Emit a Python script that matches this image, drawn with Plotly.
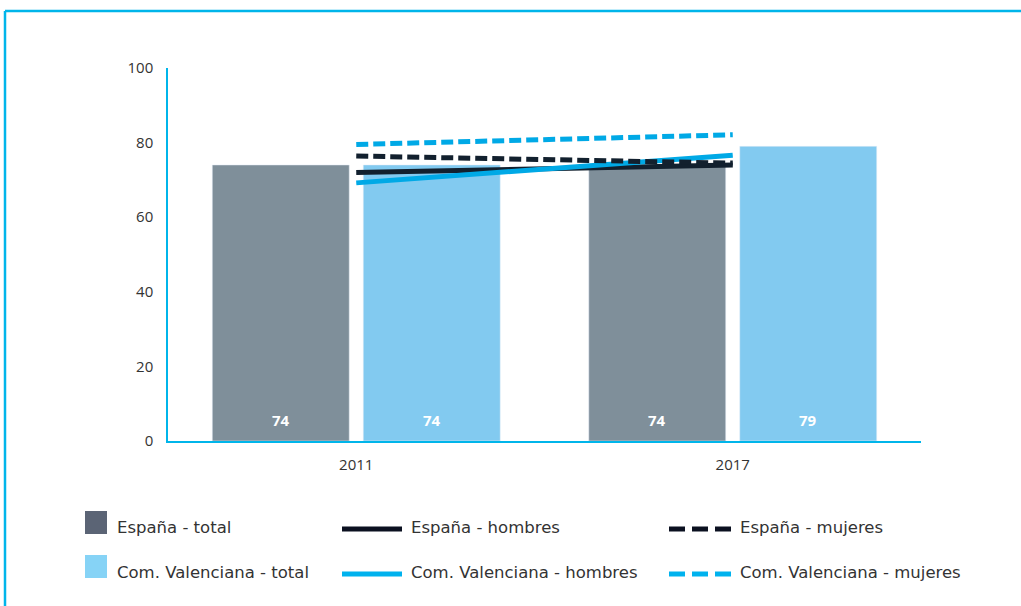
import plotly.graph_objects as go

years = ["2011", "2017"]
espana_total = [74, 74]
cv_total = [74, 79]
espana_hombres = [72.0, 74.0]
espana_mujeres = [76.4, 74.5]
cv_hombres = [69.2, 76.6]
cv_mujeres = [79.5, 82.1]
y_ticks = [0, 20, 40, 60, 80, 100]

legend_labels = ["España - total", "España - hombres", "España - mujeres",
                 "Com. Valenciana - total", "Com. Valenciana - hombres", "Com. Valenciana - mujeres"]

C_ES_BAR = "#7F8F9A"
C_CV_BAR = "#82CAF0"
C_DARK = "#12202E"
C_BLUE = "#00A9E6"
C_FRAME = "#00B5EA"
FONT = "Open Sans, Noto Sans, sans-serif"
LEG_FONT = "DejaVu Sans, sans-serif"

fig = go.Figure()
fig.add_trace(go.Bar(x=years, y=espana_total, name=legend_labels[0], marker_color=C_ES_BAR,
                     showlegend=False))
fig.add_trace(go.Bar(x=years, y=cv_total, name=legend_labels[3], marker_color=C_CV_BAR,
                     showlegend=False))
fig.add_trace(go.Scatter(x=years, y=espana_hombres, mode="lines", name=legend_labels[1],
                         line=dict(color=C_DARK, width=5), showlegend=False))
fig.add_trace(go.Scatter(x=years, y=cv_hombres, mode="lines", name=legend_labels[4],
                         line=dict(color=C_BLUE, width=5), showlegend=False))
fig.add_trace(go.Scatter(x=years, y=espana_mujeres, mode="lines", name=legend_labels[2],
                         line=dict(color=C_DARK, width=5, dash="12px,5px"), showlegend=False))
fig.add_trace(go.Scatter(x=years, y=cv_mujeres, mode="lines", name=legend_labels[5],
                         line=dict(color=C_BLUE, width=5, dash="12px,5px"), showlegend=False))

annotations = []
for i, yr in enumerate(years):
    for vals, shift in ((espana_total, -75.5), (cv_total, 75.5)):
        annotations.append(dict(x=i, y=0, xref="x", yref="y", xshift=shift, yshift=21,
                                text=f"<b>{vals[i]}</b>", showarrow=False,
                                font=dict(family=FONT, size=15, color="white")))

# Custom legend (paper coords: x_px = 168 + xp*753, y_px = 441 - yp*373)
def px(x):
    return (x - 168) / 753
def py(y):
    return (441 - y) / 373

shapes = []
# frame
shapes.append(dict(type="line", xref="paper", yref="paper", x0=px(5), x1=px(1030), y0=py(11), y1=py(11),
                   line=dict(color=C_FRAME, width=2.5)))
shapes.append(dict(type="line", xref="paper", yref="paper", x0=px(5), x1=px(5), y0=py(11), y1=py(620),
                   line=dict(color=C_FRAME, width=2.5)))

rows = [527, 572]
leg_dark = "#0B1020"
leg_blue = "#00B2EE"
# swatches
shapes.append(dict(type="rect", xref="paper", yref="paper", x0=px(85), x1=px(107), y0=py(511), y1=py(534),
                   fillcolor="#5B6475", line=dict(width=0)))
shapes.append(dict(type="rect", xref="paper", yref="paper", x0=px(85), x1=px(107), y0=py(555), y1=py(578),
                   fillcolor="#86D3F6", line=dict(width=0)))
for r, col in zip(rows, [leg_dark, leg_blue]):
    shapes.append(dict(type="line", xref="paper", yref="paper", x0=px(342), x1=px(402), y0=py(r + 2), y1=py(r + 2),
                       line=dict(color=col, width=5)))
    for a in (669, 692, 715):
        shapes.append(dict(type="line", xref="paper", yref="paper", x0=px(a), x1=px(a + 16),
                           y0=py(r + 2), y1=py(r + 2), line=dict(color=col, width=5)))

text_x = [115, 409, 738]
for ri, r in enumerate(rows):
    for ci, tx in enumerate(text_x):
        annotations.append(dict(x=px(tx), y=py(r), xref="paper", yref="paper", xanchor="left",
                                yanchor="middle", text=legend_labels[ri * 3 + ci], showarrow=False,
                                font=dict(family=LEG_FONT, size=16.5, color="#333333")))

fig.update_layout(
    width=1021, height=606,
    margin=dict(l=168, r=100, t=68, b=165),
    paper_bgcolor="white", plot_bgcolor="white",
    barmode="group", bargap=0.198, bargroupgap=0.093,
    font=dict(family=FONT, size=15, color="#333333"),
    xaxis=dict(type="category", categoryorder="array", categoryarray=years, range=[-0.5, 1.5],
               showgrid=False, showline=True, linecolor=C_FRAME, linewidth=1.5, ticks="",
               tickfont=dict(size=15, color="#333333"), ticklabelstandoff=9, zeroline=False),
    yaxis=dict(range=[0, 100], tickvals=y_ticks, showgrid=False, showline=True, linecolor=C_FRAME,
               linewidth=1.5, ticks="", tickfont=dict(size=15, color="#333333"), ticklabelstandoff=10,
               zeroline=False),
    shapes=shapes, annotations=annotations, showlegend=False,
)

fig.write_html("out.html", post_script="document.body.style.margin='0';",
               config={"displayModeBar": False})
